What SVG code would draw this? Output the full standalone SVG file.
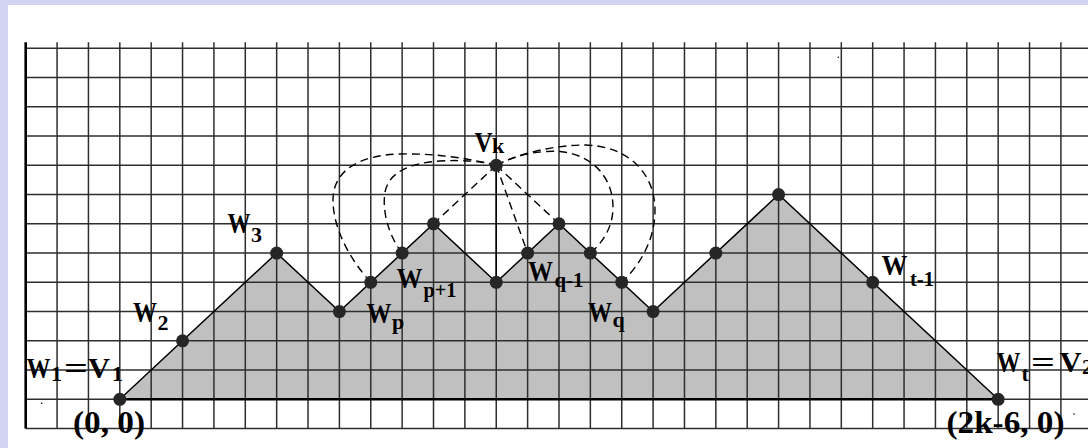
<svg xmlns="http://www.w3.org/2000/svg" width="1088" height="448" viewBox="0 0 1088 448">
<style>
.grid line{stroke:#2e2e2e;stroke-width:1.5}
.dash{fill:none;stroke:#000;stroke-width:1.4;stroke-dasharray:8 5}
.dot{fill:#262626}
.t{font-family:"Liberation Serif","Times New Roman",serif;font-weight:bold;fill:#000;font-size:29px}
.s{font-size:22px}
.c{font-size:32px}
</style>
<rect x="0" y="0" width="1088" height="448" fill="#d3d3f3"/>
<rect x="8" y="5" width="1080" height="443" fill="#fff"/>
<polygon points="119.8,399.3 276.66,253.05 339.4,311.55 433.51,223.8 496.25,282.3 558.99,223.8 653.1,311.55 778.58,194.55 998.17,399.3" fill="#c0c0c0"/>
<g class="grid" id="grid">
<line x1="25.7" y1="48.3" x2="1088" y2="48.3"/>
<line x1="25.7" y1="77.55" x2="1088" y2="77.55"/>
<line x1="25.7" y1="106.8" x2="1088" y2="106.8"/>
<line x1="25.7" y1="136.05" x2="1088" y2="136.05"/>
<line x1="25.7" y1="165.3" x2="1088" y2="165.3"/>
<line x1="25.7" y1="194.55" x2="1088" y2="194.55"/>
<line x1="25.7" y1="223.8" x2="1088" y2="223.8"/>
<line x1="25.7" y1="253.05" x2="1088" y2="253.05"/>
<line x1="25.7" y1="282.3" x2="1088" y2="282.3"/>
<line x1="25.7" y1="311.55" x2="1088" y2="311.55"/>
<line x1="25.7" y1="340.8" x2="1088" y2="340.8"/>
<line x1="25.7" y1="370.05" x2="1088" y2="370.05"/>
<line x1="25.7" y1="399.3" x2="1088" y2="399.3"/>
<line x1="25.7" y1="428.55" x2="1088" y2="428.55"/>
<line x1="25.7" y1="42.3" x2="25.7" y2="428.55" style="stroke:#000;stroke-width:2.6"/>
<line x1="57.07" y1="42.3" x2="57.07" y2="428.55"/>
<line x1="88.44" y1="42.3" x2="88.44" y2="428.55"/>
<line x1="119.81" y1="42.3" x2="119.81" y2="428.55"/>
<line x1="151.18" y1="42.3" x2="151.18" y2="428.55"/>
<line x1="182.55" y1="42.3" x2="182.55" y2="428.55"/>
<line x1="213.92" y1="42.3" x2="213.92" y2="428.55"/>
<line x1="245.29" y1="42.3" x2="245.29" y2="428.55"/>
<line x1="276.66" y1="42.3" x2="276.66" y2="428.55"/>
<line x1="308.03" y1="42.3" x2="308.03" y2="428.55"/>
<line x1="339.4" y1="42.3" x2="339.4" y2="428.55"/>
<line x1="370.77" y1="42.3" x2="370.77" y2="428.55"/>
<line x1="402.14" y1="42.3" x2="402.14" y2="428.55"/>
<line x1="433.51" y1="42.3" x2="433.51" y2="428.55"/>
<line x1="464.88" y1="42.3" x2="464.88" y2="428.55"/>
<line x1="496.25" y1="42.3" x2="496.25" y2="428.55"/>
<line x1="527.62" y1="42.3" x2="527.62" y2="428.55"/>
<line x1="558.99" y1="42.3" x2="558.99" y2="428.55"/>
<line x1="590.36" y1="42.3" x2="590.36" y2="428.55"/>
<line x1="621.73" y1="42.3" x2="621.73" y2="428.55"/>
<line x1="653.1" y1="42.3" x2="653.1" y2="428.55"/>
<line x1="684.47" y1="42.3" x2="684.47" y2="428.55"/>
<line x1="715.84" y1="42.3" x2="715.84" y2="428.55"/>
<line x1="747.21" y1="42.3" x2="747.21" y2="428.55"/>
<line x1="778.58" y1="42.3" x2="778.58" y2="428.55"/>
<line x1="809.95" y1="42.3" x2="809.95" y2="428.55"/>
<line x1="841.32" y1="42.3" x2="841.32" y2="428.55"/>
<line x1="872.69" y1="42.3" x2="872.69" y2="428.55"/>
<line x1="904.06" y1="42.3" x2="904.06" y2="428.55"/>
<line x1="935.43" y1="42.3" x2="935.43" y2="428.55"/>
<line x1="966.8" y1="42.3" x2="966.8" y2="428.55"/>
<line x1="998.17" y1="42.3" x2="998.17" y2="428.55"/>
<line x1="1029.54" y1="42.3" x2="1029.54" y2="428.55"/>
<line x1="1060.91" y1="42.3" x2="1060.91" y2="428.55"/>
</g>
<g id="profile">
<polyline points="119.8,399.3 276.66,253.05 339.4,311.55 433.51,223.8 496.25,282.3 558.99,223.8 653.1,311.55 778.58,194.55 998.17,399.3" fill="none" stroke="#000" stroke-width="1.5"/>
<line x1="119.8" y1="399.3" x2="998.17" y2="399.3" stroke="#000" stroke-width="2.6"/>
</g>
<g id="connectors">
<line x1="496.25" y1="165.3" x2="496.25" y2="282.3" stroke="#000" stroke-width="1.5"/>
<line class="dash" x1="496.25" y1="165.3" x2="433.51" y2="223.8"/>
<line class="dash" x1="496.25" y1="165.3" x2="558.99" y2="223.8"/>
<line class="dash" x1="496.25" y1="165.3" x2="527.62" y2="253.05"/>
<path class="dash" d="M370.77,282.3 C352,262 333,230 333,200 C333,170 360,155 400,154 C440,153 475,160 496.25,165.3"/>
<path class="dash" d="M402.14,253.05 C388,235 382,210 385,192 C389,172 410,163 440,161 C465,159.5 485,162 496.25,165.3"/>
<path class="dash" d="M496.25,165.3 C515,155 540,150 560,151.5 C595,155 613,180 613,207 C613,228 602,243 590.36,253.05"/>
<path class="dash" d="M496.25,165.3 C520,153 555,145 585,145 C630,146 655,175 655,210 C655,240 640,265 621.73,282.3"/>
</g>
<g id="w1">
<circle class="dot" cx="119.8" cy="399.3" r="6.5"/>
<text class="t" x="26.5" y="378"><tspan textLength="24" lengthAdjust="spacingAndGlyphs">W</tspan><tspan class="s" x="51" y="380.5">1</tspan><tspan x="64" y="378" textLength="24" lengthAdjust="spacingAndGlyphs">=</tspan><tspan x="88" textLength="22" lengthAdjust="spacingAndGlyphs">V</tspan><tspan class="s" x="112" y="380.5">1</tspan></text>
<text class="t c" x="73" y="433" textLength="72" lengthAdjust="spacingAndGlyphs">(0, 0)</text>
</g>
<g id="w2"><circle class="dot" cx="182.55" cy="340.8" r="6.5"/>
<text class="t" x="133" y="322"><tspan textLength="24" lengthAdjust="spacingAndGlyphs">W</tspan><tspan class="s" x="157.5" y="330">2</tspan></text></g>
<g id="w3"><circle class="dot" cx="276.66" cy="253.05" r="6.5"/>
<text class="t" x="227.5" y="232.5"><tspan textLength="23" lengthAdjust="spacingAndGlyphs">W</tspan><tspan class="s" x="251" y="241.5">3</tspan></text></g>
<g id="wp"><circle class="dot" cx="339.4" cy="311.55" r="6.5"/>
<text class="t" x="366.5" y="323"><tspan textLength="25" lengthAdjust="spacingAndGlyphs">W</tspan><tspan class="s" x="392" y="329">p</tspan></text></g>
<g id="n11"><circle class="dot" cx="370.77" cy="282.3" r="6.5"/></g>
<g id="wp1"><circle class="dot" cx="402.14" cy="253.05" r="6.5"/>
<text class="t" x="396.5" y="288"><tspan textLength="26" lengthAdjust="spacingAndGlyphs">W</tspan><tspan class="s" x="423.5" y="296.5" textLength="33" lengthAdjust="spacingAndGlyphs">p+1</tspan></text></g>
<g id="n13"><circle class="dot" cx="433.51" cy="223.8" r="6.5"/></g>
<g id="n15"><circle class="dot" cx="496.25" cy="282.3" r="6.5"/></g>
<g id="vk"><circle class="dot" cx="496.25" cy="165.3" r="6.5"/>
<text class="t" x="474.5" y="152"><tspan textLength="18" lengthAdjust="spacingAndGlyphs">V</tspan><tspan class="s" x="492" y="153">k</tspan></text></g>
<g id="wq1"><circle class="dot" cx="527.62" cy="253.05" r="6.5"/>
<text class="t" x="528" y="280.5"><tspan textLength="25" lengthAdjust="spacingAndGlyphs">W</tspan><tspan class="s" x="554.5" y="287" textLength="29" lengthAdjust="spacingAndGlyphs">q-1</tspan></text></g>
<g id="n17"><circle class="dot" cx="558.99" cy="223.8" r="6.5"/></g>
<g id="n18"><circle class="dot" cx="590.36" cy="253.05" r="6.5"/></g>
<g id="wq"><circle class="dot" cx="621.73" cy="282.3" r="6.5"/>
<text class="t" x="588" y="321.5"><tspan textLength="24" lengthAdjust="spacingAndGlyphs">W</tspan><tspan class="s" x="612.5" y="327">q</tspan></text></g>
<g id="n20"><circle class="dot" cx="653.1" cy="311.55" r="6.5"/></g>
<g id="n22"><circle class="dot" cx="715.84" cy="253.05" r="6.5"/></g>
<g id="n24"><circle class="dot" cx="778.58" cy="194.55" r="6.5"/></g>
<g id="wt1"><circle class="dot" cx="872.69" cy="282.3" r="6.5"/>
<text class="t" x="881.5" y="275"><tspan textLength="26" lengthAdjust="spacingAndGlyphs">W</tspan><tspan class="s" x="910" y="286" textLength="24" lengthAdjust="spacingAndGlyphs">t-1</tspan></text></g>
<g id="wt"><circle class="dot" cx="998.17" cy="399.3" r="6.5"/>
<text class="t" x="996.5" y="371.5"><tspan textLength="24" lengthAdjust="spacingAndGlyphs">W</tspan><tspan class="s" x="1021.5" y="381">t</tspan><tspan x="1031" y="371.5" textLength="24" lengthAdjust="spacingAndGlyphs">=</tspan><tspan x="1059.5" textLength="22" lengthAdjust="spacingAndGlyphs">V</tspan><tspan class="s" x="1082" y="374">2</tspan></text>
<text class="t c" x="946.5" y="433" textLength="118" lengthAdjust="spacingAndGlyphs">(2k-6, 0)</text>
</g>
<g id="specks" fill="#000">
<circle cx="41.7" cy="403.3" r="0.8"/>
<circle cx="838.3" cy="57.3" r="0.8"/>
<circle cx="1074" cy="414" r="0.8"/>
</g>
</svg>
